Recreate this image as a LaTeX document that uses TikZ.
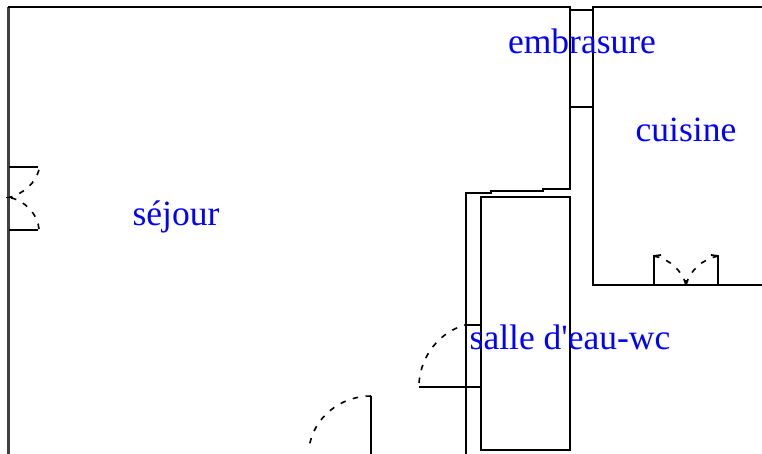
\documentclass[tikz,border=0pt]{standalone}
\usepackage{fontspec}
\newfontfamily\labelfont{Liberation Serif}
\tikzset{
  x=1pt,y=-1pt,
  wall/.style={draw=black,line width=1.8pt,line join=miter},
  swing/.style={draw=black,line width=1.6pt,dash pattern=on 5.5pt off 7.5pt},
  roomlabel/.style={text=blue,font=\labelfont\fontsize{35.5}{38}\selectfont,inner sep=0pt,anchor=base}
}
\begin{document}
\begin{tikzpicture}
\useasboundingbox (0,0) rectangle (762,454);
% outer walls
\draw[wall,draw=black!75,line width=2.6pt] (8.7,7) -- (8.7,454);
\draw[wall] (8,7.2) -- (570.2,7.2) -- (570.2,189) -- (543,189) -- (543,190.7) -- (491,190.7) -- (491,192.7) -- (466,192.7) -- (466,454);
\draw[wall] (762,7.2) -- (593.2,7.2) -- (593.2,285.2) -- (762,285.2);
\draw[wall] (570,10) -- (593,10);
\draw[wall] (570,107.2) -- (593,107.2);
\draw[wall] (481.2,197.2) rectangle (570.2,450.2);
% left door
\draw[wall] (9,167.2) -- (38,167.2);
\draw[wall] (9,230) -- (38,230);
\draw[wall] (6,197.5) -- (13,197.5);
\draw[swing] (39,170) .. controls (35,183) and (25,193) .. (9,197.5);
\draw[swing] (39,229) .. controls (38,215) and (25,200) .. (9,197.5);
% cuisine door
\draw[wall] (654,285) -- (654,256) -- (661,255);
\draw[wall] (718,285) -- (718,256) -- (711,255);
\draw[wall] (686,280) -- (686,285);
\draw[swing] (654,256) .. controls (669,259) and (682,270) .. (686,285);
\draw[swing] (718,256) .. controls (703,259) and (690,270) .. (686,285);
% bottom door
\draw[wall] (371.2,396) -- (371.2,454);
\draw[swing] (371,396) .. controls (340,396) and (313,418) .. (309,448);
% bath door
\draw[wall] (419,387.2) -- (481,387.2);
\draw[wall] (465,325.2) -- (481,325.2);
\draw[swing] (419,383) .. controls (421,355) and (440,332) .. (465,325);
% labels
\node[roomlabel] (sejour) at (176,225.5) {séjour};
\node[roomlabel] (embrasure) at (582,53.5) {embrasure};
\node[roomlabel] (cuisine) at (686,141.5) {cuisine};
\node[roomlabel] (salle) at (570,349.5) {salle d'eau-wc};
\end{tikzpicture}
\end{document}
